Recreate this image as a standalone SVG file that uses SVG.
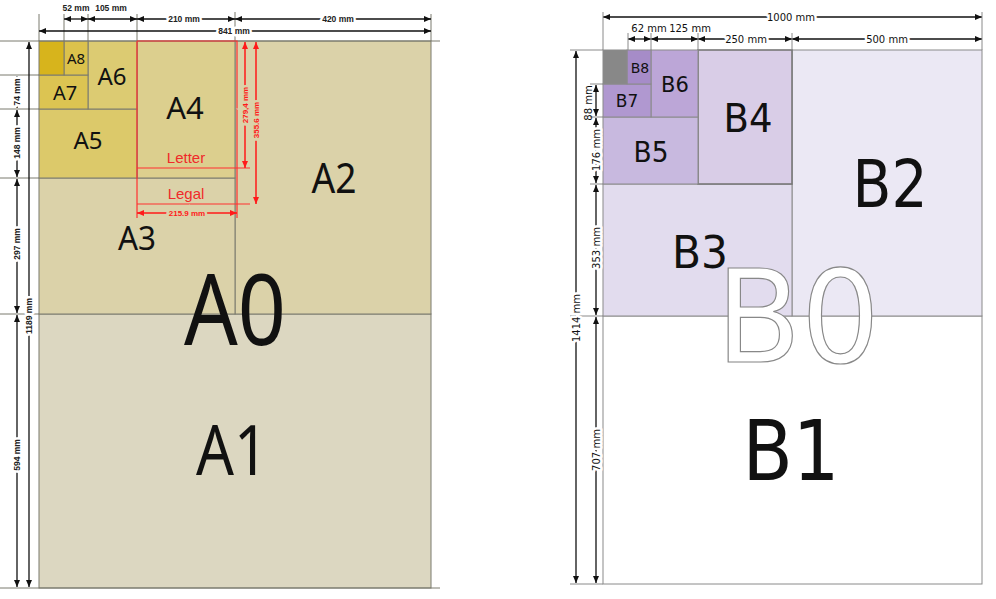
<svg xmlns="http://www.w3.org/2000/svg" width="996" height="599" viewBox="0 0 996 599">
<defs>
<marker id="ak" markerWidth="7" markerHeight="6" refX="7" refY="3" orient="auto-start-reverse" markerUnits="userSpaceOnUse"><path d="M0,0 L7,3 L0,6 z" fill="#111"/></marker>
<marker id="ar" markerWidth="7" markerHeight="6" refX="7" refY="3" orient="auto-start-reverse" markerUnits="userSpaceOnUse"><path d="M0,0 L7,3 L0,6 z" fill="#ff1a1a"/></marker>
</defs>
<style>
.ln{stroke:#7a7a6e;stroke-width:1}
.lb{stroke:#8a8a8a;stroke-width:1}
.open{fill:none}
.dim{stroke:#111;stroke-width:1.3;fill:none;marker-start:url(#ak);marker-end:url(#ak)}
.rdim{stroke:#ff1a1a;stroke-width:1.5;fill:none;marker-start:url(#ar);marker-end:url(#ar)}
.rl{stroke:#ff3030;stroke-width:1.2;fill:none}
.at{font-family:"Liberation Sans",Arial,sans-serif;font-size:8.5px;font-weight:bold;fill:#222;text-anchor:middle}
.bt{font-family:"DejaVu Sans",Verdana,sans-serif;font-size:10px;fill:#111;text-anchor:middle}
.rt{font-family:"Liberation Sans",Arial,sans-serif;font-size:8px;font-weight:bold;fill:#ff1a1a;text-anchor:middle}
.halo{stroke:#fff;stroke-width:5;paint-order:stroke;stroke-linejoin:round}
.al{font-family:"Noto Sans","DejaVu Sans",sans-serif;fill:#111;text-anchor:middle}
.bl{font-family:"DejaVu Sans",Verdana,sans-serif;fill:#111;text-anchor:middle}
.b0{font-family:"DejaVu Sans",Verdana,sans-serif;fill:#fff;stroke:#888;stroke-width:1.2;text-anchor:middle}
</style>
<rect width="996" height="599" fill="#fff"/>

<g id="A1"><rect x="39" y="314" width="392" height="274" fill="#dcd7c1" class="ln"/><text class="al" x="232" y="475" font-size="70" textLength="72" lengthAdjust="spacingAndGlyphs">A1</text></g>
<g id="A2"><rect x="235" y="41" width="196" height="273" fill="#dbd2a9" class="ln"/><text class="al" x="334" y="193" font-size="42" textLength="45" lengthAdjust="spacingAndGlyphs">A2</text></g>
<g id="A3"><rect x="39" y="178" width="196" height="136" fill="#dbd2a9" class="ln"/><text class="al" x="137" y="250" font-size="32" textLength="38" lengthAdjust="spacingAndGlyphs">A3</text></g>
<g id="A4"><rect x="137" y="41" width="98" height="137" fill="#dccf8e" class="ln"/><text class="al" x="185" y="119" font-size="31">A4</text></g>
<g id="A5"><rect x="39" y="109" width="98" height="69" fill="#dcc96a" class="ln"/><text class="al" x="88" y="149" font-size="24">A5</text></g>
<g id="A6"><rect x="88" y="41" width="49" height="68" fill="#dccb72" class="ln"/><text class="al" x="112" y="85" font-size="24">A6</text></g>
<g id="A7"><rect x="39" y="75" width="49" height="34" fill="#dcc452" class="ln"/><text class="al" x="65" y="100" font-size="20">A7</text></g>
<g id="A8"><rect x="64" y="41" width="24" height="34" fill="#dcc24c" class="ln"/><text class="al" x="76" y="64" font-size="15">A8</text></g>
<g id="A9"><rect x="39" y="41" width="25" height="34" fill="#d7b41c" class="ln"/></g>
<g id="A0"><text class="al" x="235" y="345" font-size="98" textLength="102" lengthAdjust="spacingAndGlyphs">A0</text></g>

<g id="A-extensions">
<path class="ln open" d="M0,41H440 M0,75H39 M0,109H39 M0,178H39 M0,314H39 M0,588H440 M39,14V41 M64,14V41 M88,14V41 M137,14V41 M235,12V41 M431,14V41"/>
</g>

<g id="letter-legal">
<path class="rl" d="M137,41H237V218 M137,41V218 M137,168H250 M137,204H250"/>
<text x="186" y="163" font-family="Liberation Sans,Arial,sans-serif" font-size="15" fill="#f02a2a" text-anchor="middle">Letter</text>
<text x="186" y="199" font-family="Liberation Sans,Arial,sans-serif" font-size="15" fill="#f02a2a" text-anchor="middle">Legal</text>
</g>

<g id="connectors">
<line class="dim" x1="64" y1="19" x2="88" y2="19"/>
<line class="dim" x1="88" y1="19" x2="137" y2="19"/>
<line class="dim" x1="137" y1="19" x2="235" y2="19"/>
<line class="dim" x1="235" y1="19" x2="431" y2="19"/>
<line class="dim" x1="39" y1="31" x2="431" y2="31"/>
<line class="dim" x1="17" y1="76" x2="17" y2="108"/>
<line class="dim" x1="17" y1="110" x2="17" y2="177"/>
<line class="dim" x1="17" y1="179" x2="17" y2="313"/>
<line class="dim" x1="17" y1="315" x2="17" y2="587"/>
<line class="dim" x1="29" y1="42" x2="29" y2="587"/>
<line class="rdim" x1="245" y1="42" x2="245" y2="168"/>
<line class="rdim" x1="256" y1="42" x2="256" y2="204"/>
<line class="rdim" x1="137" y1="213" x2="237" y2="213"/>
<line class="dim" x1="603" y1="17" x2="982" y2="17"/>
<line class="dim" x1="628" y1="39" x2="651" y2="39"/>
<line class="dim" x1="651" y1="39" x2="698" y2="39"/>
<line class="dim" x1="698" y1="39" x2="792" y2="39"/>
<line class="dim" x1="792" y1="39" x2="982" y2="39"/>
<line class="dim" x1="596" y1="85" x2="596" y2="116"/>
<line class="dim" x1="596" y1="118" x2="596" y2="183"/>
<line class="dim" x1="596" y1="185" x2="596" y2="315"/>
<line class="dim" x1="596" y1="317" x2="596" y2="583"/>
<line class="dim" x1="576" y1="51" x2="576" y2="583"/>
</g>

<g id="A-labels">
<text class="at" x="76" y="11">52 mm</text>
<text class="at" x="111" y="11">105 mm</text>
<text class="at halo" x="184" y="22">210 mm</text>
<text class="at halo" x="338" y="22">420 mm</text>
<text class="at halo" x="234" y="34">841 mm</text>
<text class="at halo" transform="translate(17,92) rotate(-90)" y="3">74 mm</text>
<text class="at halo" transform="translate(17,143) rotate(-90)" y="3">148 mm</text>
<text class="at halo" transform="translate(17,244) rotate(-90)" y="3">297 mm</text>
<text class="at halo" transform="translate(17,455) rotate(-90)" y="3">594 mm</text>
<text class="at halo" transform="translate(29,316) rotate(-90)" y="3">1189 mm</text>
<text class="rt" transform="translate(245,105) rotate(-90)" y="3" style="stroke:#dbd2a9;stroke-width:5;paint-order:stroke">279,4 mm</text>
<text class="rt" transform="translate(256,120) rotate(-90)" y="3" style="stroke:#dbd2a9;stroke-width:5;paint-order:stroke">355.6 mm</text>
<text class="rt" x="187" y="216" style="stroke:#dbd2a9;stroke-width:5;paint-order:stroke">215.9 mm</text>
</g>

<g id="B1"><rect x="603" y="316" width="379" height="268" fill="#fff" class="lb"/><text class="bl" x="791" y="480" font-size="84" textLength="97" lengthAdjust="spacingAndGlyphs">B1</text></g>
<g id="B2"><rect x="792" y="50" width="190" height="266" fill="#ebe8f4" class="lb"/><text class="bl" x="890" y="207" font-size="66" textLength="75" lengthAdjust="spacingAndGlyphs">B2</text></g>
<g id="B3"><rect x="603" y="184" width="189" height="132" fill="#e2dcee" class="lb"/><text class="bl" x="700" y="268" font-size="44" textLength="56" lengthAdjust="spacingAndGlyphs">B3</text></g>
<g id="B4"><rect x="698" y="50" width="94" height="134" fill="#d9cde7" stroke="#777" stroke-width="1.6"/><text class="bl" x="748" y="132" font-size="39" textLength="49" lengthAdjust="spacingAndGlyphs">B4</text></g>
<g id="B5"><rect x="603" y="117" width="95" height="67" fill="#c8b9df" class="lb"/><text class="bl" x="651" y="162" font-size="29" textLength="35" lengthAdjust="spacingAndGlyphs">B5</text></g>
<g id="B6"><rect x="651" y="50" width="47" height="67" fill="#bca6d7" class="lb"/><text class="bl" x="675" y="92" font-size="21">B6</text></g>
<g id="B7"><rect x="603" y="84" width="48" height="33" fill="#b098d0" class="lb"/><text class="bl" x="627" y="107" font-size="17">B7</text></g>
<g id="B8"><rect x="627" y="50" width="24" height="34" fill="#a68cc8" class="lb"/><text class="bl" x="640" y="73" font-size="14">B8</text></g>
<g id="B9"><rect x="603" y="50" width="24" height="34" fill="#888888" class="lb"/></g>
<g id="B0"><text class="b0" x="798" y="362" font-size="129" textLength="164" lengthAdjust="spacingAndGlyphs">B0</text></g>

<g id="B-extensions">
<path class="lb open" d="M570,50H603 M590,84H603 M590,117H603 M590,184H603 M570,316H603 M570,584H603 M603,12V50 M628,33V50 M651,33V50 M698,33V50 M792,33V50 M982,12V50"/>
</g>

<g id="B-labels">
<text class="bt halo" x="791" y="21">1000 mm</text>
<text class="bt" x="649" y="32">62 mm</text>
<text class="bt" x="690" y="32">125 mm</text>
<text class="bt halo" x="746" y="43">250 mm</text>
<text class="bt halo" x="887" y="43">500 mm</text>
<text class="bt" transform="translate(588,103) rotate(-90)" y="3.5">88 mm</text>
<text class="bt halo" transform="translate(596,150) rotate(-90)" y="3.5">176 mm</text>
<text class="bt halo" transform="translate(596,248) rotate(-90)" y="3.5">353 mm</text>
<text class="bt halo" transform="translate(596,450) rotate(-90)" y="3.5">707 mm</text>
<text class="bt halo" transform="translate(576,318) rotate(-90)" y="3.5">1414 mm</text>
</g>
</svg>
